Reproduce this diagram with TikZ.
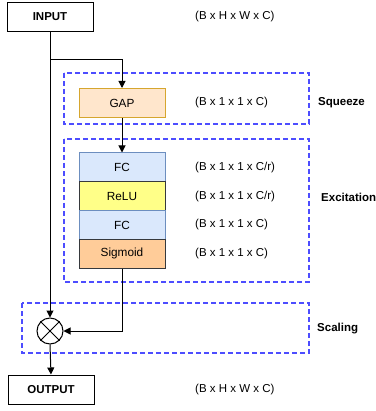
\documentclass[tikz,border=0pt]{standalone}
\usepackage{fontspec}
\setmainfont{Liberation Sans}
\usetikzlibrary{arrows.meta}
\definecolor{grpblue}{HTML}{4D4DFF}
\definecolor{fcfill}{HTML}{DAE8FC}
\definecolor{fcdraw}{HTML}{6C8EBF}
\definecolor{relufill}{HTML}{FFFF88}
\definecolor{sigfill}{HTML}{FFCC99}
\definecolor{darkdraw}{HTML}{36393D}
\definecolor{gapfill}{HTML}{FFE6CC}
\definecolor{gapdraw}{HTML}{D6A62E}
\begin{document}
\begin{tikzpicture}[x=1pt,y=-1pt,
  font=\fontsize{11.5}{13}\selectfont,
  iobox/.style={draw=black,line width=1pt,minimum width=86pt,minimum height=29pt,inner sep=0pt,font=\fontsize{11.5}{13}\selectfont\bfseries},
  layer/.style={draw=#1,line width=1pt,minimum width=86pt,minimum height=29pt,inner sep=0pt,font=\fontsize{11.8}{13}\selectfont},
  group/.style={draw=grpblue,line width=1.2pt,dash pattern=on 5pt off 3pt},
  dimtext/.style={anchor=west,inner sep=0pt},
  stage/.style={anchor=west,inner sep=0pt,font=\fontsize{11.5}{13}\selectfont\bfseries},
  flow/.style={line width=1pt,-{Triangle[length=7pt,width=7pt]}}]
\useasboundingbox (0,0) rectangle (375,411);

% stage frames
\draw[group] (64,73) rectangle (309,124);
\draw[group] (64,139) rectangle (309,282);
\draw[group] (22,303) rectangle (309,353);

% blocks
\node[iobox] (in) at (50,17) {INPUT};
\node[layer=gapdraw,fill=gapfill] (gap) at (122,103) {GAP};
\node[layer=fcdraw,fill=fcfill] (fc1) at (122,167.5) {FC};
\node[layer=darkdraw,fill=relufill] (relu) at (122,196.5) {ReLU};
\node[layer=fcdraw,fill=fcfill] (fc2) at (122,225) {FC};
\node[layer=darkdraw,fill=sigfill] (sig) at (122,253.5) {Sigmoid};
\node[draw=black,line width=1pt,circle,minimum size=26pt,inner sep=0pt] (mul) at (50,331) {};
\draw[line width=1pt] (mul.north west) -- (mul.south east) (mul.north east) -- (mul.south west);
\node[iobox] (out) at (51,389.5) {OUTPUT};

% connectors
\coordinate (split) at (50,60);
\draw[flow] (in.south) -- (mul.north);
\draw[flow] (split) -| (gap.north);
\draw[flow] (gap.south) -- (fc1.north);
\draw[flow] (sig.south) |- (mul.east);
\draw[flow] (mul.south) -- (out.north);

% tensor shapes
\node[dimtext] (s0) at (195,17) {(B x H x W x C)};
\node[dimtext] (s1) at (195,103) {(B x 1 x 1 x C)};
\node[dimtext] (s2) at (195,168) {(B x 1 x 1 x C/r)};
\node[dimtext] (s3) at (195,197) {(B x 1 x 1 x C/r)};
\node[dimtext] (s4) at (195,225) {(B x 1 x 1 x C)};
\node[dimtext] (s5) at (195,254) {(B x 1 x 1 x C)};
\node[dimtext] (s6) at (195,390) {(B x H x W x C)};

% stage names
\node[stage] (sq) at (318,103) {Squeeze};
\node[stage] (ex) at (321,197) {Excitation};
\node[stage] (sc) at (317,329) {Scaling};
\end{tikzpicture}
\end{document}
